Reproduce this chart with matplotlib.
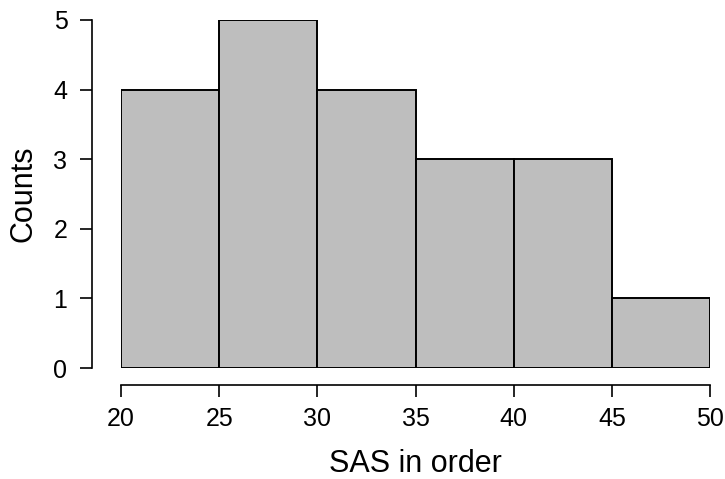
import matplotlib
matplotlib.use("Agg")
import matplotlib.pyplot as plt

bin_edges = [20, 25, 30, 35, 40, 45, 50]
counts = [4, 5, 4, 3, 3, 1]
x_ticks = [20, 25, 30, 35, 40, 45, 50]
y_ticks = [0, 1, 2, 3, 4, 5]

plt.rcParams['font.family'] = ['Liberation Sans', 'DejaVu Sans']

fig = plt.figure(figsize=(7.25, 4.79), dpi=100)
W, H = 725, 479
ax = fig.add_axes([121 / W, (H - 368) / H, 589 / W, 348 / H])

lefts = bin_edges[:-1]
widths = [b - a for a, b in zip(bin_edges[:-1], bin_edges[1:])]
ax.bar(lefts, counts, width=widths, align='edge', color='#bebebe',
       edgecolor='black', linewidth=1.4)

ax.set_xlim(20, 50)
ax.set_ylim(0, 5)
ax.set_xticks(x_ticks)
ax.set_yticks(y_ticks)

px = 72 / 100
for s in ['top', 'right']:
    ax.spines[s].set_visible(False)
ax.spines['left'].set_position(('outward', 29 * px))
ax.spines['bottom'].set_position(('outward', 17 * px))
ax.spines['left'].set_linewidth(1.2)
ax.spines['bottom'].set_linewidth(1.2)
ax.tick_params(axis='both', length=12 * px, width=1.2, labelsize=18, direction='out')
ax.tick_params(axis='x', pad=7)
ax.tick_params(axis='y', pad=9)

ax.set_xlabel('SAS in order', fontsize=22, labelpad=13)
ax.set_ylabel('Counts', fontsize=22, labelpad=11)

fig.savefig('out.png', dpi=100)
